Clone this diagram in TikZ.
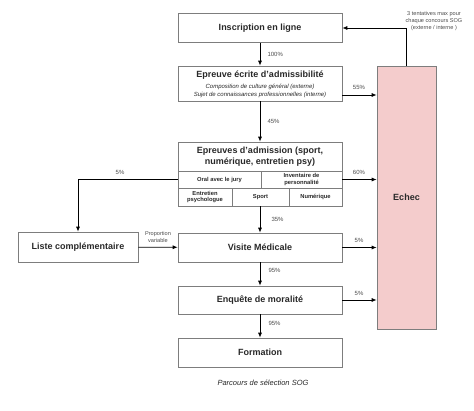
\documentclass[tikz,border=0pt]{standalone}
\usepackage{fontspec}
\setmainfont{Liberation Sans}
\usetikzlibrary{arrows.meta}

\definecolor{mgri}{RGB}{125, 125, 125}
\definecolor{mros}{RGB}{244, 204, 204}
\definecolor{mtxt}{RGB}{40, 40, 40}

\tikzset{
	etape/.style={draw=mgri, line width=0.6pt, minimum width=164pt, minimum height=29pt, inner sep=0pt, align=center, text=mtxt, font=\bfseries\fontsize{9}{11}\selectfont},
	case/.style={draw=mgri, line width=0.6pt, inner sep=0pt, align=center, text=mtxt, font=\bfseries\fontsize{5.8}{6.4}\selectfont},
	fleche/.style={-{Latex[length=5pt,width=4pt]}, line width=0.8pt},
	pct/.style={text=black!70, font=\fontsize{6}{7}\selectfont},
	note/.style={align=center, text=black!70, font=\fontsize{5.6}{6.8}\selectfont},
}

\begin{document}
\begin{tikzpicture}[x=1pt, y=-1pt]
			\useasboundingbox (0,0) rectangle (474,410);

			% --- Main column ---
			\node[etape] (ins) at (260,28) {Inscription en ligne};

			\node[etape, minimum height=35pt] (ecr) at (260,83.5) {};
			\node[text=mtxt, font=\bfseries\fontsize{9}{11}\selectfont] (ecrtitre) at (260,75.5) {Epreuve écrite d’admissibilité};
			\node[align=center, text=mtxt, font=\itshape\fontsize{6}{7.5}\selectfont] (ecrsous) at (260,91) {Composition de culture général (externe)\\Sujet de connaissances professionnelles (interne)};

			% admission block with its table
			\node[etape, minimum height=64pt] (adm) at (260,174) {};
			\node[align=center, text=mtxt, font=\bfseries\fontsize{9}{11}\selectfont] (admtitre) at (260,157) {Epreuves d’admission (sport,\\numérique, entretien psy)};
			\node[case, minimum width=83pt, minimum height=17pt] (oral) at (219.5,179.5) {Oral avec le jury};
			\node[case, minimum width=81pt, minimum height=17pt] (invent) at (301.5,179.5) {Inventaire de\\personnalité};
			\node[case, minimum width=54pt, minimum height=18pt] (psy) at (205,197) {Entretien\\psychologue};
			\node[case, minimum width=57pt, minimum height=18pt] (sport) at (260.5,197) {Sport};
			\node[case, minimum width=53pt, minimum height=18pt] (num) at (315.5,197) {Numérique};

			\node[etape] (vis) at (260,247.5) {Visite Médicale};
			\node[etape, minimum height=28pt] (enq) at (260,300) {Enquête de moralité};
			\node[etape] (form) at (260,352.5) {Formation};

			\node[etape, minimum width=120pt, minimum height=30pt] (liste) at (78,247) {Liste complémentaire};

			\node[etape, fill=mros, minimum width=59pt, minimum height=263pt] (echec) at (406.5,197.5) {Echec};

			% --- Flows down ---
			\draw[fleche] (ins) -- (ecr);
			\draw[fleche] (ecr) -- (adm);
			\draw[fleche] (adm) -- (vis);
			\draw[fleche] (vis) -- (enq);
			\draw[fleche] (enq) -- (form);
			\draw[fleche] (liste) -- (vis);
			\draw[fleche] (oral.west) -| (liste.north);

			% --- Flows to Echec ---
			\draw[fleche] ([yshift=-11.5pt]ecr.east) -- ([yshift=-11.5pt]ecr.east -| echec.west);
			\draw[fleche] (invent.east) -- (invent.east -| echec.west);
			\draw[fleche] (vis.east) -- (vis.east -| echec.west);
			\draw[fleche] (enq.east) -- (enq.east -| echec.west);
			\draw[fleche] (echec.north) |- (ins.east);

			% percentages
			\node[pct, anchor=west] (p100) at (264,54) {100\%};
			\node[pct, anchor=west] (p45) at (264,121) {45\%};
			\node[pct, anchor=west] (p35) at (268,219) {35\%};
			\node[pct, anchor=west] (p95a) at (265,270) {95\%};
			\node[pct, anchor=west] (p95b) at (265,323) {95\%};
			\node[pct] (p55) at (359,87) {55\%};
			\node[pct] (p60) at (359,172) {60\%};
			\node[pct] (p5a) at (359,240) {5\%};
			\node[pct] (p5b) at (359,293) {5\%};
			\node[pct] (p5c) at (120,172) {5\%};

			\node[note] (prop) at (158,237) {Proportion\\variable};
			\node[note] (tent) at (434,21) {3 tentatives max pour\\chaque concours SOG\\(externe / interne )};

			\node[text=mtxt, font=\itshape\fontsize{7.5}{9}\selectfont] (titre) at (263,383) {Parcours de sélection SOG};

		\end{tikzpicture}
\end{document}
